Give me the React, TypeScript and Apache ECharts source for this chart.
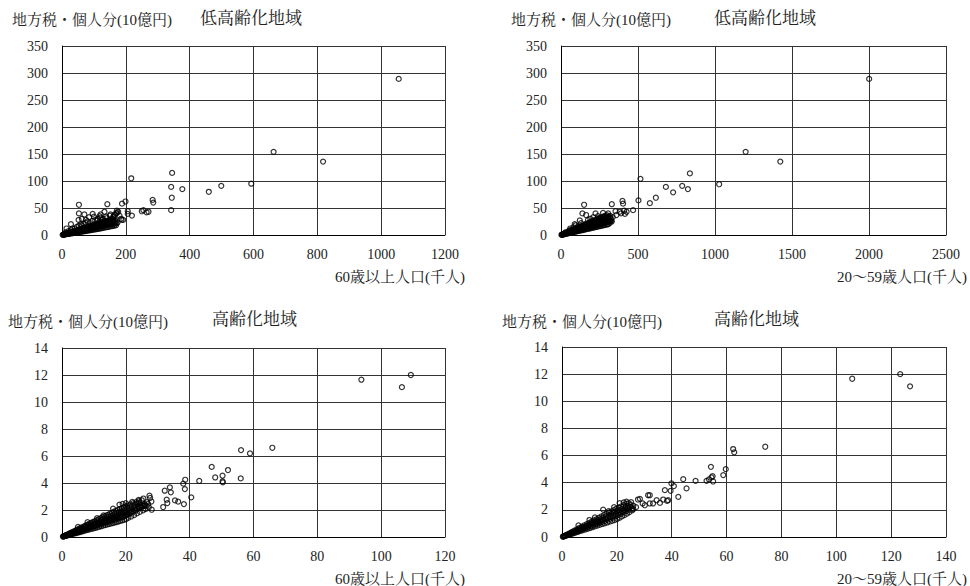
import React, { useEffect, useRef } from "react";
import * as echarts from "echarts";

const FONT = "'Liberation Serif', 'Times New Roman', 'DejaVu Serif', 'Noto Serif CJK JP', 'Noto Sans CJK JP', serif";

// Tick settings per panel
const yTicksLow = { max: 350, interval: 50 };
const yTicksHigh = { max: 14, interval: 2 };
const xTicks = [
  { max: 1200, interval: 200 },
  { max: 2500, interval: 500 },
  { max: 120, interval: 20 },
  { max: 140, interval: 20 },
];

const yTitle = "地方税・個人分(10億円)";
const panelTitles = ["低高齢化地域", "低高齢化地域", "高齢化地域", "高齢化地域"];
const xNames = ["60歳以上人口(千人)", "20～59歳人口(千人)", "60歳以上人口(千人)", "20～59歳人口(千人)"];

// Panel 1: low-aging regions, 60+ population (thousand) vs local tax (10bn yen)
const lowAging60: number[][] = [
  [2,0.3],[5,0.9],[7,0.6],[9,1.6],[11,1.2],[13,2.1],[15,1.5],[16,2.7],[19,1.9],[20,3.4],[22,2.6],[24,3.9],[25,2.4],[27,4.8],[28,3.6],[30,4.4],[31,5.9],[33,3.2],[34,4.9],[36,6.3],[37,3.8],[39,5.6],[40,7.4],[42,4.1],[43,6.4],[45,8.1],[46,4.7],[48,7.2],[49,9.3],[51,5.0],[52,7.9],[54,9.9],[55,5.6],[57,8.6],[58,10.8],[60,6.1],[61,9.4],[63,11.6],[64,6.4],[66,10.1],[67,12.5],[69,7.0],[70,10.9],[72,13.1],[73,7.3],[75,11.4],[76,14.2],[78,7.8],[79,12.3],[81,15.0],[82,8.4],[84,12.9],[85,15.7],[87,8.6],[88,13.8],[90,16.8],[91,9.2],[93,14.3],[94,17.5],[96,9.5],[97,15.1],[99,18.4],[100,10.2],[102,15.8],[103,19.2],[105,10.4],[106,16.6],[108,20.1],[109,11.0],[111,17.2],[112,21.0],[114,11.5],[115,18.0],[117,21.7],[118,12.1],[120,18.7],[121,22.8],[123,12.4],[124,19.3],[126,23.4],[127,13.0],[129,20.2],[130,24.5],[132,13.6],[133,20.8],[135,25.1],[137,14.0],[138,21.7],[140,26.2],[142,14.7],[143,22.4],[145,26.9],[147,15.2],[148,23.1],[150,27.8],[152,15.9],[153,23.9],[155,28.3],[157,16.4],[158,24.6],[160,29.2],[162,17.0],[163,25.3],[165,18.4],[167,26.0],[169,17.8],[171,21.5],[174,23.0],
  [10,1.9],[18,3.0],[26,3.6],[35,5.1],[44,6.3],[53,7.2],[62,8.4],[71,9.3],[80,11.0],[89,11.5],[98,13.4],[107,13.9],[116,15.6],[125,16.1],[134,17.9],[143,18.6],[152,19.8],[161,21.4],
  [4,0.5],[8,1.1],[12,1.6],[16,2.1],[20,2.7],[24,3.2],[28,3.8],[32,4.3],[36,4.9],[40,5.4],[44,6.0],[48,6.5],[52,7.1],[56,7.5],[60,8.1],[64,8.6],[68,9.2],[72,9.7],[76,10.3],[80,10.8],[84,11.4],[88,11.9],[92,12.5],[96,12.9],[100,13.6],[104,14.0],[108,14.7],[112,15.1],[116,15.8],[120,16.2],[124,16.9],[128,17.3],[132,18.0],[136,18.4],[140,19.1],[144,19.5],[148,20.2],[152,20.6],[156,21.3],[160,21.8],[164,22.4],[168,22.9],
  [6,1.0],[14,2.4],[22,3.7],[30,5.1],[38,6.5],[46,7.8],[54,9.2],[62,10.5],[70,11.9],[78,13.3],[86,14.6],[94,16.0],[102,17.3],[110,18.7],[118,20.1],[126,21.4],[134,22.8],[142,24.1],[150,25.5],[158,26.9],[166,28.2],
  [12,5],[20,7],[28,9],[33,12],[40,12],[46,15],[52,17],[58,20],[62,18],[68,21],[74,23],[80,25],[88,22],[96,26],[104,28],[112,30],[120,32],[128,30],[138,34],[150,36],[162,35],[170,40],[176,43],[180,36],[185,30],[192,28],
  [62,30],[75,28],[85,33],[100,34],[110,27],[118,35],[125,28],[140,31],[160,33],[165,38],
  [53,56],[53,40],[70,38],[96,39],[121,38],[133,43],[152,38],[142,57],[52,28],[28,20],[14,12],[172,45],[172,41],[187,28],[188,58],[199,62],[206,44],[206,39],[219,36],[250,44],[255,46],[265,42],[271,43],[284,65],[286,60],[217,105],[342,46],[344,69],[342,89],[345,115],[377,85],[460,80],[499,91],[593,95],[663,154],[818,136],[1055,289],
];

// Panel 2: low-aging regions, 20-59 population (thousand) vs local tax
const lowAging2059: number[][] = [
  [3,0.2],[6,0.6],[9,0.8],[12,0.9],[15,1.5],[18,2.1],[21,1.4],[24,2.4],[27,3.2],[30,2.0],[33,3.1],[36,4.4],[39,2.6],[42,4.0],[45,5.5],[48,3.1],[51,4.8],[54,6.8],[57,3.8],[60,5.6],[63,7.9],[66,4.2],[69,6.7],[72,9.1],[75,4.9],[78,7.3],[81,10.2],[84,5.4],[87,8.3],[90,11.3],[93,6.1],[96,9.0],[99,12.4],[102,6.6],[105,10.1],[108,13.4],[111,7.3],[114,10.8],[117,14.6],[120,7.7],[123,11.7],[126,15.8],[129,8.5],[132,12.5],[135,16.9],[138,8.9],[141,13.4],[144,17.9],[147,9.6],[150,14.3],[153,19.2],[156,10.1],[159,15.0],[162,20.3],[165,10.9],[168,16.1],[171,21.2],[174,11.3],[177,16.8],[180,22.5],[183,12.0],[186,17.7],[189,23.6],[192,12.4],[195,18.5],[198,24.8],[201,13.2],[204,19.4],[207,25.7],[210,13.6],[213,20.3],[216,26.9],[219,14.3],[222,21.0],[225,28.2],[228,14.9],[231,22.0],[234,29.0],[237,15.4],[240,22.7],[243,30.4],[246,16.1],[249,23.7],[252,31.3],[255,16.6],[258,24.5],[261,32.5],[264,17.2],[267,25.4],[270,33.6],[273,17.8],[276,26.2],[279,34.6],[282,18.4],[285,27.1],[288,35.8],[291,19.0],[294,28.0],[297,36.9],[300,19.5],[303,28.8],[306,24.0],[309,20.2],[312,29.7],[318,22.5],[324,30.4],[330,25.1],[336,33.0],
  [20,1.9],[40,3.4],[60,4.9],[80,6.3],[100,8.1],[120,9.5],[140,11.2],[160,12.7],[180,14.2],[200,16.0],[220,17.5],[240,19.1],[260,20.6],[280,22.4],[300,23.8],[320,26.5],
  [8,0.9],[20,2.2],[32,3.5],[44,4.8],[56,6.2],[68,7.5],[80,8.8],[92,10.1],[104,11.4],[116,12.8],[128,14.1],[140,15.4],[152,16.7],[164,18.0],[176,19.4],[188,20.7],[200,22.0],[212,23.3],[224,24.6],[236,26.0],[248,27.3],[260,28.6],[272,29.9],[284,31.2],[296,32.6],[308,33.9],[320,35.2],
  [14,1.1],[26,2.1],[38,3.0],[50,4.0],[62,5.0],[74,5.9],[86,6.9],[98,7.8],[110,8.8],[122,9.8],[134,10.7],[146,11.7],[158,12.6],[170,13.6],[182,14.6],[194,15.5],[206,16.5],[218,17.4],[230,18.4],[242,19.4],[254,20.3],[266,21.3],[278,22.2],[290,23.2],[302,24.2],[314,25.1],[326,26.1],
  [30,5],[55,9],[60,12],[80,14],[95,18],[110,16],[89,20],[122,27],[130,22],[139,40],[150,56],[163,37],[175,28],[190,30],[224,40],[210,33],[240,35],[273,41],[250,31],[306,40],[316,33],[330,57],[354,44],[360,37],[381,43],[390,40],[410,45],[415,39],[399,63],[403,58],[426,43],[468,46],[503,64],[516,104],[577,59],[616,69],[681,89],[728,79],[787,91],[824,85],[837,114],[1027,94],[1199,154],[1424,136],[2001,289],
];

// Panel 3: aging regions, 60+ population vs local tax
const highAging60: number[][] = [
  [0.3,0.03],[0.5,0.05],[0.7,0.06],[0.9,0.09],[1.1,0.08],[1.3,0.13],[1.5,0.1],[1.7,0.16],[1.9,0.2],[2.1,0.14],[2.3,0.22],[2.5,0.28],[2.7,0.18],[2.9,0.27],[3.1,0.35],[3.3,0.21],[3.5,0.31],[3.7,0.42],[3.9,0.26],[4.1,0.37],[4.3,0.49],[4.5,0.29],[4.7,0.42],[4.9,0.56],[5.1,0.33],[5.3,0.47],[5.5,0.63],[5.7,0.37],[5.9,0.53],[6.1,0.7],[6.3,0.41],[6.5,0.58],[6.7,0.77],[6.9,0.45],[7.1,0.64],[7.3,0.84],[7.5,0.49],[7.7,0.69],[7.9,0.9],[8.1,0.53],[8.3,0.75],[8.5,0.98],[8.7,0.57],[8.9,0.8],[9.1,1.05],[9.3,0.6],[9.5,0.86],[9.7,1.12],[9.9,0.64],[10.1,0.91],[10.3,1.18],[10.5,0.68],[10.7,0.96],[10.9,1.25],[11.1,0.72],[11.3,1.02],[11.5,1.32],[11.7,0.76],[11.9,1.07],[12.1,1.39],[12.3,0.8],[12.5,1.12],[12.7,1.46],[12.9,0.84],[13.1,1.18],[13.3,1.53],[13.5,0.88],[13.7,1.23],[13.9,1.6],[14.1,0.92],[14.3,1.29],[14.5,1.66],[14.7,0.96],[14.9,1.34],[15.1,1.73],[15.3,0.99],[15.5,1.39],[15.7,1.8],[15.9,1.03],[16.1,1.45],[16.3,1.87],[16.5,1.07],[16.7,1.5],[16.9,1.94],[17.1,1.11],[17.3,1.56],[17.5,2.0],[17.7,1.15],[17.9,1.61],[18.1,2.07],[18.3,1.19],[18.5,1.66],[18.7,2.14],[18.9,1.23],[19.1,1.72],[19.3,2.2],[19.5,1.27],[19.7,1.78],[19.9,2.27],[20.1,1.33],[20.3,1.85],[20.5,2.33],[20.8,1.42],[21.1,1.95],[21.4,2.42],[21.7,1.52],[22,2.05],[22.3,2.5],[22.6,1.62],[22.9,2.15],[23.2,2.58],[23.5,1.75],[23.8,2.25],[24.1,2.65],[24.4,1.86],[24.7,2.35],[25,2.72],[25.4,1.98],[25.8,2.45],[26.2,2.06],[26.6,2.58],
  [0.4,0.04],[0.8,0.06],[1.2,0.11],[1.6,0.12],[2.0,0.17],[2.4,0.19],[2.8,0.23],[3.2,0.25],[3.6,0.3],[4.0,0.31],[4.4,0.36],[4.8,0.38],[5.2,0.43],[5.6,0.44],[6.0,0.5],[6.4,0.5],[6.8,0.56],[7.2,0.56],[7.6,0.63],[8.0,0.62],[8.4,0.7],[8.8,0.69],[9.2,0.76],[9.6,0.75],[10.0,0.83],[10.4,0.81],[10.8,0.89],[11.2,0.87],[11.6,0.96],[12.0,0.94],[12.4,1.02],[12.8,1.0],[13.2,1.09],[13.6,1.06],[14.0,1.16],[14.4,1.12],[14.8,1.22],[15.2,1.19],[15.6,1.29],[16.0,1.25],[16.4,1.35],[16.8,1.31],[17.2,1.42],[17.6,1.37],[18.0,1.49],[18.4,1.44],[18.8,1.55],[19.2,1.5],[19.6,1.62],[20.0,1.58],[20.4,1.7],[20.8,1.68],[21.2,1.8],[21.6,1.78],[22.0,1.9],[22.4,1.88],[22.8,2.0],[23.2,1.98],[23.6,2.1],[24.0,2.1],[24.4,2.2],[24.8,2.2],[25.2,2.3],[25.6,2.3],[26.0,2.38],[26.5,2.3],[27.0,2.45],
  [1.0,0.1],[1.8,0.18],[2.6,0.26],[3.4,0.34],[4.2,0.43],[5.0,0.51],[5.8,0.59],[6.6,0.67],[7.4,0.76],[8.2,0.84],[9.0,0.92],[9.8,1.0],[10.6,1.08],[11.4,1.16],[12.2,1.25],[13.0,1.33],[13.8,1.41],[14.6,1.49],[15.4,1.57],[16.2,1.65],[17.0,1.74],[17.8,1.82],[18.6,1.9],[19.4,1.98],[20.2,2.08],[21.0,2.18],[21.8,2.28],[22.6,2.38],[23.4,2.46],[24.2,2.52],
  [5,0.75],[8,1.1],[11,1.4],[13,1.6],[16,2.1],[18,2.4],[19,2.45],[20,2.5],[22,2.6],[24,2.75],[25.5,2.85],[27.4,3.06],[27.6,2.89],[28,2.63],[28.1,2.02],[27.2,2.2],
  [31.7,2.22],[32.2,3.43],[32.8,2.76],[33,2.51],[33.8,3.68],[34.1,3.31],[35.4,2.71],[36.4,2.62],[38.2,2.44],[40.5,2.94],[38.5,3.55],[38,3.95],[38.6,4.24],[43,4.15],[46.9,5.19],[48,4.41],[50.3,4.54],[50.3,4.12],[50.4,4.05],[52,4.96],[56,4.34],[56.1,6.44],[58.9,6.19],[65.9,6.61],[93.8,11.65],[106.5,11.1],[109.3,12],
];

// Panel 4: aging regions, 20-59 population vs local tax
const highAging2059: number[][] = [
  [0.3,0.02],[0.6,0.05],[0.9,0.07],[1.2,0.08],[1.5,0.13],[1.8,0.17],[2.1,0.14],[2.4,0.2],[2.7,0.27],[3.0,0.2],[3.3,0.28],[3.6,0.37],[3.9,0.25],[4.2,0.36],[4.5,0.47],[4.8,0.31],[5.1,0.43],[5.4,0.56],[5.7,0.37],[6.0,0.51],[6.3,0.66],[6.6,0.43],[6.9,0.59],[7.2,0.76],[7.5,0.49],[7.8,0.66],[8.1,0.85],[8.4,0.55],[8.7,0.74],[9.0,0.95],[9.3,0.6],[9.6,0.82],[9.9,1.04],[10.2,0.66],[10.5,0.89],[10.8,1.13],[11.1,0.72],[11.4,0.97],[11.7,1.23],[12.0,0.78],[12.3,1.05],[12.6,1.32],[12.9,0.84],[13.2,1.12],[13.5,1.42],[13.8,0.9],[14.1,1.2],[14.4,1.51],[14.7,0.96],[15.0,1.28],[15.3,1.61],[15.6,1.01],[15.9,1.35],[16.2,1.7],[16.5,1.07],[16.8,1.43],[17.1,1.8],[17.4,1.13],[17.7,1.5],[18.0,1.89],[18.3,1.19],[18.6,1.58],[18.9,1.98],[19.2,1.25],[19.5,1.66],[19.8,2.08],[20.1,1.33],[20.4,1.75],[20.7,2.17],[21.0,1.42],[21.3,1.84],[21.6,2.26],[21.9,1.52],[22.2,1.93],[22.5,2.35],[22.8,1.62],[23.1,2.02],[23.4,2.44],[23.7,1.72],[24.0,2.12],[24.3,2.5],[24.6,1.84],[24.9,2.22],[25.2,2.56],[25.6,1.96],
  [0.5,0.04],[1.0,0.07],[1.5,0.11],[2.0,0.16],[2.5,0.19],[3.0,0.27],[3.5,0.26],[4.0,0.36],[4.5,0.34],[5.0,0.46],[5.5,0.42],[6.0,0.56],[6.5,0.49],[7.0,0.65],[7.5,0.57],[8.0,0.75],[8.5,0.64],[9.0,0.84],[9.5,0.72],[10.0,0.94],[10.5,0.8],[11.0,1.03],[11.5,0.87],[12.0,1.13],[12.5,0.95],[13.0,1.22],[13.5,1.02],[14.0,1.32],[14.5,1.1],[15.0,1.41],[15.5,1.18],[16.0,1.51],[16.5,1.26],[17.0,1.6],[17.5,1.34],[18.0,1.7],[18.5,1.42],[19.0,1.79],[19.5,1.52],[20.0,1.89],[20.5,1.62],[21.0,1.98],[21.5,1.72],[22.0,2.08],[22.5,1.82],[23.0,2.18],[23.5,1.92],[24.0,2.28],[24.5,2.02],[25.0,2.38],[25.5,2.12],[26.0,2.3],
  [6,0.85],[10,1.25],[12,1.45],[15,2.02],[17,1.9],[19,2.2],[21,2.5],[22.5,2.55],[23.5,2.6],[26,2.05],[27,2.2],
  [27.7,2.76],[28.4,2.81],[29.4,2.47],[30.2,2.34],[31.4,3.08],[32,3.08],[32,2.47],[33.2,2.47],[34.5,2.71],[35.7,2.51],[36.9,2.76],[38.3,2.66],[38.7,2.71],[37.5,3.45],[39.6,3.4],[39.9,3.95],[40.8,3.75],[42.4,2.96],[44.2,4.26],[45.4,3.58],[48.7,4.14],[52.7,4.14],[53.6,4.24],[54.5,4.39],[55.1,4.09],[54.9,4.48],[54.3,5.17],[58.8,4.56],[59.7,5.0],[62.4,6.48],[62.8,6.24],[74.1,6.65],[105.8,11.66],[123.3,12.0],[126.9,11.1],
];

const panelData = [lowAging60, lowAging2059, highAging60, highAging2059];

export default function App() {
  const ref = useRef<HTMLDivElement>(null);
  useEffect(() => {
    if (!ref.current) return;
    const chart = echarts.init(ref.current, undefined, { renderer: "svg" });

    const grids = [
      { left: 62, top: 46, width: 383, height: 189 },
      { left: 561, top: 46, width: 385, height: 189 },
      { left: 62, top: 348, width: 383, height: 189 },
      { left: 562, top: 347, width: 384, height: 190 },
    ];
    const textColor = "#222";
    const gridColor = "#333";
    const plain = (v: number) => String(v);

    const xAxis = xTicks.map((t, i) => ({
      type: "value",
      gridIndex: i,
      min: 0,
      max: t.max,
      interval: t.interval,
      axisLine: { show: true, onZero: false, lineStyle: { color: "#000", width: 1 } },
      axisTick: { show: false },
      axisLabel: { color: textColor, fontSize: 14, fontFamily: FONT, margin: 12, formatter: plain },
      splitLine: { show: true, lineStyle: { color: gridColor, width: 1 } },
    }));
    const yAxis = [0, 1, 2, 3].map((i) => {
      const t = i < 2 ? yTicksLow : yTicksHigh;
      return {
        type: "value",
        gridIndex: i,
        min: 0,
        max: t.max,
        interval: t.interval,
        axisLine: { show: true, onZero: false, lineStyle: { color: "#000", width: 1 } },
        axisTick: { show: false },
        axisLabel: { color: textColor, fontSize: 14, fontFamily: FONT, margin: 14, formatter: plain },
        splitLine: { show: true, lineStyle: { color: gridColor, width: 1 } },
      };
    });

    const series = panelData.map((d, i) => ({
      type: "scatter",
      xAxisIndex: i,
      yAxisIndex: i,
      data: d,
      symbol: "circle",
      symbolSize: 5,
      silent: true,
      large: false,
      itemStyle: { color: "rgba(255,255,255,0)", borderColor: "#000", borderWidth: 1.2 },
    }));

    const txt = (text: string, x: number, y: number, size: number, align: string) => ({
      type: "text",
      x,
      y,
      silent: true,
      style: {
        text,
        font: `${size}px ${FONT}`,
        fill: textColor,
        textAlign: align,
        align,
        textVerticalAlign: "middle",
        verticalAlign: "middle",
      },
    });

    const graphic = [
      txt(yTitle, 12, 20, 15, "left"),
      txt(panelTitles[0], 200, 18, 17, "left"),
      txt(xNames[0], 465, 277, 15, "right"),
      txt(yTitle, 511, 20, 15, "left"),
      txt(panelTitles[1], 714, 18, 17, "left"),
      txt(xNames[1], 967, 277, 15, "right"),
      txt(yTitle, 8, 322, 15, "left"),
      txt(panelTitles[2], 212, 319, 17, "left"),
      txt(xNames[2], 465, 579, 15, "right"),
      txt(yTitle, 502, 322, 15, "left"),
      txt(panelTitles[3], 714, 319, 17, "left"),
      txt(xNames[3], 967, 579, 15, "right"),
    ];

    chart.setOption({
      animation: false,
      backgroundColor: "#fff",
      textStyle: { fontFamily: FONT },
      grid: grids,
      xAxis,
      yAxis,
      series,
      graphic,
    });
    return () => chart.dispose();
  }, []);

  return (
    <div
      ref={ref}
      style={{ position: "fixed", left: 0, top: 0, width: 970, height: 586, background: "#fff" }}
    />
  );
}
